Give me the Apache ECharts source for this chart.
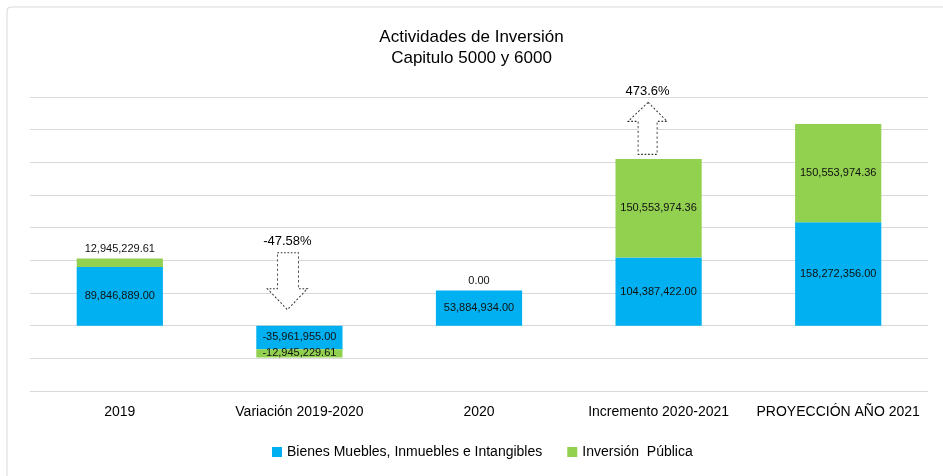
<!DOCTYPE html>
<html>
<head>
<meta charset="utf-8">
<script src="https://cdn.jsdelivr.net/npm/echarts@6/dist/echarts.min.js"></script>
<style>
  html, body { margin: 0; padding: 0; background: #fff; }
  #main { width: 943px; height: 476px; }
</style>
</head>
<body>
<div id="main"></div>
<script>
// datos
var categorias = ['2019', 'Variación 2019-2020', '2020', 'Incremento 2020-2021', 'PROYECCIÓN AÑO 2021'];
var bienes = [89846889.00, -35961955.00, 53884934.00, 104387422.00, 158272356.00];
var inversion = [12945229.61, -12945229.61, 0.00, 150553974.36, 150553974.36];
var etiquetasArriba = [true, false, true, false, false]; // etiqueta verde encima de la barra
var variaciones = ['-47.58%', '473.6%'];

var fmt = function (v) {
    return Number(v).toLocaleString('en-US', { minimumFractionDigits: 2, maximumFractionDigits: 2 });
};

var myChart = echarts.init(document.getElementById('main'));

var datosVerdes = inversion.map(function (v, i) {
    return {
        value: v,
        label: etiquetasArriba[i] ? { position: 'top', distance: 4 } : { position: 'inside' }
    };
});

var flechaAbajo = 'path://M10,0 L31,0 L31,36 L40,36 L20,57 L0,36 L10,36 Z';
var flechaArriba = 'path://M20,0 L39,19 L29,19 L29,52 L10,52 L10,19 L0,19 Z';

var option = {
    backgroundColor: '#fff',
    textStyle: { fontFamily: 'Liberation Sans, Arial, sans-serif' },
    title: {
        text: 'Actividades de Inversión\nCapitulo 5000 y 6000',
        left: 'center',
        top: 22,
        textStyle: { fontSize: 17, fontWeight: 'normal', color: '#000', lineHeight: 21 }
    },
    legend: {
        bottom: 12,
        left: 267,
        itemWidth: 10,
        itemHeight: 10,
        itemGap: 25,
        icon: 'rect',
        textStyle: { fontSize: 14, color: '#000' },
        data: ['Bienes Muebles, Inmuebles e Intangibles', 'Inversión  Pública']
    },
    graphic: [{
        type: 'rect',
        shape: { x: 7, y: 7, width: 945, height: 480, r: 4 },
        style: { fill: 'none', stroke: '#d9d9d9', lineWidth: 1 }
    }],
    grid: { left: 30, right: 15, top: 97, bottom: 85 },
    xAxis: {
        type: 'category',
        data: categorias,
        axisLine: { show: false },
        axisTick: { show: false },
        axisLabel: { fontSize: 14, color: '#000', margin: 14, interval: 0 }
    },
    yAxis: {
        type: 'value',
        min: -100000000,
        max: 350000000,
        interval: 50000000,
        axisLabel: { show: false },
        axisLine: { show: false },
        axisTick: { show: false },
        splitLine: { lineStyle: { color: '#d9d9d9', width: 1 } }
    },
    series: [{
        name: 'Bienes Muebles, Inmuebles e Intangibles',
        type: 'bar',
        stack: 'total',
        barWidth: '48%',
        itemStyle: { color: '#00B0F0' },
        label: {
            show: true,
            position: 'inside',
            fontSize: 11,
            color: '#111',
            formatter: function (p) { return fmt(p.value); }
        },
        data: bienes,
        markPoint: {
            silent: true,
            itemStyle: { color: '#fff', borderColor: '#333', borderWidth: 1, borderType: [2, 2] },
            label: { show: true, position: 'top', distance: 4, fontSize: 13, color: '#000' },
            data: [
                { coord: [1, 68000000], symbol: flechaAbajo, symbolSize: [40, 57], symbolOffset: [-12, 0],
                  label: { formatter: variaciones[0] } },
                { coord: [3, 302000000], symbol: flechaArriba, symbolSize: [39, 52], symbolOffset: [-11, 0],
                  label: { formatter: variaciones[1] } }
            ]
        }
    }, {
        name: 'Inversión  Pública',
        type: 'bar',
        stack: 'total',
        barWidth: '48%',
        itemStyle: { color: '#92D050' },
        label: {
            show: true,
            fontSize: 11,
            color: '#111',
            formatter: function (p) { return fmt(p.value); }
        },
        data: datosVerdes
    }]
};

myChart.setOption(option);
</script>
</body>
</html>
